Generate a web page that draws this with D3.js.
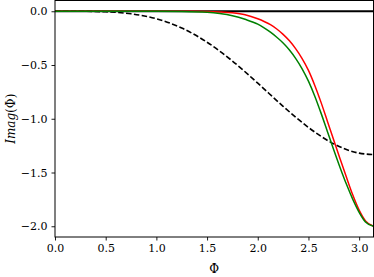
<!DOCTYPE html>
<html>
<head>
<meta charset="utf-8">
<script src="https://cdn.jsdelivr.net/npm/d3@7"></script>
<style>
  html, body { margin: 0; padding: 0; background: #fff; }
  svg { display: block; }
  text { font-family: "DejaVu Serif", serif; fill: #000; }
</style>
</head>
<body>
<svg id="chart" width="374" height="277"></svg>
<script>
// ---- data ----
const xDashed = [0, 0.25, 0.5, 0.75, 1.0, 1.25, 1.5, 1.75, 2.0, 2.25, 2.5, 2.75, 3.0, Math.PI];
const yDashed = [0, -0.0003, -0.005, -0.024, -0.070, -0.156, -0.288, -0.463, -0.669, -0.884, -1.081, -1.234, -1.320, -1.333];

const xCurve = [0, 0.5, 1.0, 1.25, 1.5, 1.625, 1.75, 1.875, 2.0, 2.0625, 2.125, 2.1875, 2.25, 2.3125, 2.375, 2.4375, 2.5, 2.5625, 2.625, 2.6875, 2.75, 2.8125, 2.875, 2.9375, 3.0, 3.0625, Math.PI];
const yRed = [0, 0, 0, -0.0005, -0.002, -0.006, -0.014, -0.032, -0.07, -0.095, -0.125, -0.165, -0.215, -0.275, -0.35, -0.44, -0.55, -0.69, -0.85, -1.025, -1.2, -1.375, -1.545, -1.71, -1.85, -1.95, -2.0];
const yGreen = [0, 0, 0, -0.002, -0.01, -0.022, -0.042, -0.075, -0.12, -0.155, -0.195, -0.242, -0.295, -0.36, -0.44, -0.535, -0.65, -0.79, -0.95, -1.12, -1.29, -1.455, -1.61, -1.75, -1.87, -1.96, -2.0];

const xZero = [0, Math.PI];
const yZero = [0, 0];

const xTicks = [0.0, 0.5, 1.0, 1.5, 2.0, 2.5, 3.0];
const yTicks = [0.0, -0.5, -1.0, -1.5, -2.0];

// ---- layout ----
const svg = d3.select("#chart");
const L = 55, R = 373.5, T = 0.5, B = 237;
const x = d3.scaleLinear().domain([0, Math.PI]).range([L, R]);
const y = d3.scaleLinear().domain([-2.1, 0.1]).range([B, T]);

const fmt = d => d3.format(".1f")(d).replace("-", "\u2212");

svg.append("clipPath").attr("id", "clip")
  .append("rect").attr("x", L).attr("y", T).attr("width", R - L).attr("height", B - T);

const line = d3.line().x(d => x(d[0])).y(d => y(d[1])).curve(d3.curveMonotoneX);
const zip = (a, b) => a.map((v, i) => [v, b[i]]);

const g = svg.append("g").attr("clip-path", "url(#clip)");
g.append("path").datum(zip(xZero, yZero)).attr("d", line)
  .attr("fill", "none").attr("stroke", "#000").attr("stroke-width", 1.8);
g.append("path").datum(zip(xDashed, yDashed)).attr("d", line)
  .attr("fill", "none").attr("stroke", "#000").attr("stroke-width", 1.6)
  .attr("stroke-dasharray", "5.5,2.4");
g.append("path").datum(zip(xCurve, yRed)).attr("d", line)
  .attr("fill", "none").attr("stroke", "#ff0000").attr("stroke-width", 1.5);
g.append("path").datum(zip(xCurve, yGreen)).attr("d", line)
  .attr("fill", "none").attr("stroke", "#008000").attr("stroke-width", 1.5);

// axes
const xAxis = d3.axisBottom(x).tickValues(xTicks).tickFormat(fmt).tickSize(3.5).tickPadding(4);
const yAxis = d3.axisLeft(y).tickValues(yTicks).tickFormat(fmt).tickSize(3.5).tickPadding(4);

const gx = svg.append("g").attr("transform", `translate(0,${B})`).call(xAxis);
const gy = svg.append("g").attr("transform", `translate(${L},0)`).call(yAxis);
[gx, gy].forEach(a => {
  a.select(".domain").remove();
  a.selectAll("line").attr("stroke", "#000").attr("stroke-width", 0.9);
  a.selectAll("text").attr("font-family", "DejaVu Serif, serif").attr("font-size", 11).attr("fill", "#000");
});

// frame
svg.append("rect").attr("x", L).attr("y", T).attr("width", R - L).attr("height", B - T)
  .attr("fill", "none").attr("stroke", "#000").attr("stroke-width", 1);

// labels
svg.append("text").attr("x", (L + R) / 2).attr("y", 273)
  .attr("text-anchor", "middle").attr("font-size", 12).text("\u03A6");
svg.append("text").attr("transform", `translate(15,${(T + B) / 2}) rotate(-90)`)
  .attr("text-anchor", "middle").attr("font-size", 12)
  .html('<tspan font-style="italic">Imag</tspan>(\u03A6)');
</script>
</body>
</html>
